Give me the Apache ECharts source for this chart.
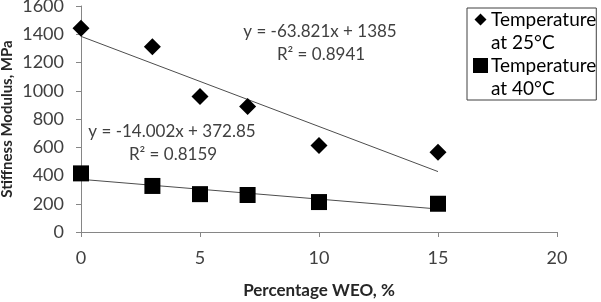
<!DOCTYPE html>
<html><head><meta charset="utf-8">
<script src="https://cdn.jsdelivr.net/npm/echarts@6/dist/echarts.min.js"></script>
<style>html,body{margin:0;padding:0;background:#fff}#c{width:601px;height:302px}</style>
</head><body><div id="c"></div>
<script>
const xValues = [0, 3, 5, 7, 10, 15];
const stiffness25 = [1442, 1312, 960, 888, 612, 565];
const stiffness40 = [415, 326, 268, 262, 212, 200];
const trend25 = [-63.821, 1385];   // slope, intercept
const trend40 = [-14.002, 372.85];
const trendRange = [0, 15];
const eq25 = ['y = -63.821x + 1385', 'R² = 0.8941'];
const eq40 = ['y = -14.002x + 372.85', 'R² = 0.8159'];
const seriesNames = ['Temperature\nat 25°C', 'Temperature\nat 40°C'];
const xTitle = 'Percentage WEO, %';
const yTitle = 'Stiffness Modulus, MPa';

const FONT = 'Lato';
const pts = (xs, ys) => xs.map((x, i) => [x, ys[i]]);
const line = (c) => trendRange.map(x => [x, c[0] * x + c[1]]);
const txt = (s, x, y) => ({type: 'text', x: x, y: y,
  style: {text: s, fontSize: 17, fill: '#404040', fontFamily: FONT, align: 'center', verticalAlign: 'middle'}});
// legend icons: mark in upper line, tiny invisible anchors stretch the box to two lines
const anchors = ' M0,0 L0.01,0 L0,0.01 Z M15,46 L14.99,46 L15,45.99 Z';
const iconDiamond = 'path://M7.5,5.5 L13.5,11.5 L7.5,17.5 L1.5,11.5 Z' + anchors;
const iconSquare = 'path://M0,4 L15,4 L15,19 L0,19 Z' + anchors;

const chart = echarts.init(document.getElementById('c'), null, {renderer: 'canvas'});
chart.setOption({
  animation: false,
  textStyle: {fontFamily: FONT},
  grid: {left: 81, right: 44, top: 6, bottom: 70, containLabel: false, outerBoundsMode: 'none'},
  xAxis: {
    type: 'value', min: 0, max: 20, interval: 5,
    name: xTitle, nameLocation: 'middle', nameGap: 50, nameMoveOverlap: false,
    nameTextStyle: {fontFamily: FONT, fontWeight: 'bold', fontSize: 17, color: '#262626'},
    axisLine: {show: true, onZero: false, lineStyle: {color: '#868686', width: 1}},
    axisTick: {show: true, length: 5, lineStyle: {color: '#868686'}},
    axisLabel: {fontSize: 18, color: '#404040', margin: 17, fontFamily: FONT},
    splitLine: {show: false}
  },
  yAxis: {
    type: 'value', min: 0, max: 1600, interval: 200,
    name: yTitle, nameLocation: 'middle', nameGap: 66, nameRotate: 90, nameMoveOverlap: false,
    nameTextStyle: {fontFamily: FONT, fontWeight: 'bold', fontSize: 15, color: '#262626'},
    axisLine: {show: true, lineStyle: {color: '#868686', width: 1}},
    axisTick: {show: true, length: 5, lineStyle: {color: '#868686'}},
    axisLabel: {fontSize: 18, color: '#404040', margin: 17, fontFamily: FONT,
                formatter: v => String(v)},
    splitLine: {show: false}
  },
  legend: {
    orient: 'vertical', left: 467, top: 8, width: 130,
    data: [{name: seriesNames[0], icon: iconDiamond}, {name: seriesNames[1], icon: iconSquare}],
    itemWidth: 15, itemHeight: 46, itemGap: 0,
    padding: [0, 0, 0, 6],
    borderColor: '#404040', borderWidth: 1,
    itemStyle: {opacity: 1},
    textStyle: {fontSize: 19, color: '#000', fontFamily: FONT, lineHeight: 23, padding: [0, 0, 0, -2]}
  },
  series: [
    {name: seriesNames[0], type: 'scatter', symbol: 'diamond', symbolSize: 17,
     itemStyle: {color: '#000', opacity: 1}, data: pts(xValues, stiffness25), z: 3},
    {name: seriesNames[1], type: 'scatter', symbol: 'rect', symbolSize: 16,
     itemStyle: {color: '#000', opacity: 1}, data: pts(xValues, stiffness40), z: 3},
    {name: 'trend25', type: 'line', symbol: 'none', data: line(trend25),
     lineStyle: {color: '#4d4d4d', width: 1}, z: 2},
    {name: 'trend40', type: 'line', symbol: 'none', data: line(trend40),
     lineStyle: {color: '#4d4d4d', width: 1}, z: 2}
  ],
  graphic: [
    txt(eq25[0], 320, 32), txt(eq25[1], 321, 55),
    txt(eq40[0], 172, 132), txt(eq40[1], 173, 155)
  ]
});
</script></body></html>
